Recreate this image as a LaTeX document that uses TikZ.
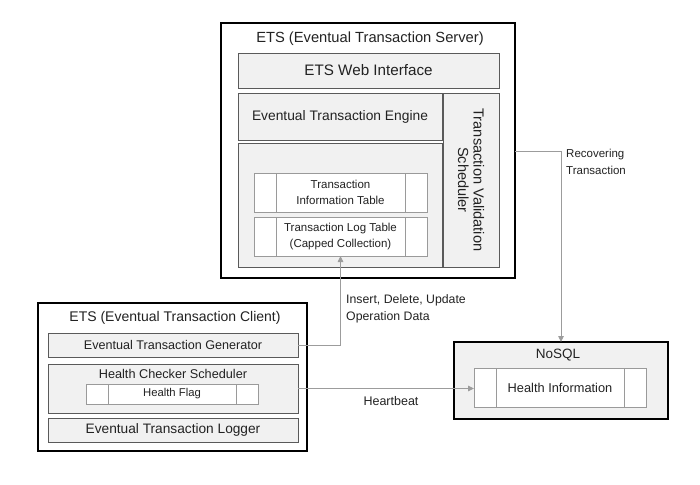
\documentclass[tikz,border=0pt]{standalone}
\usepackage{fontspec}
\setmainfont{Liberation Sans}
\usetikzlibrary{arrows.meta}
\definecolor{boxfill}{HTML}{F1F1F1}
\definecolor{boxline}{HTML}{5A5A5A}
\definecolor{cellline}{HTML}{9A9A9A}
\definecolor{connline}{HTML}{9C9C9C}
\definecolor{txt}{HTML}{222222}
\newcommand{\fsz}[1]{\fontsize{#1}{#1*1.15}\selectfont}
\tikzset{
  outerbox/.style={draw=black, line width=2.4pt, inner sep=0pt, outer sep=0pt, anchor=north west},
  compbox/.style={draw=boxline, fill=boxfill, line width=0.9pt, inner sep=0pt, outer sep=0pt, anchor=north west, text=txt, align=center},
  cellbox/.style={draw=cellline, fill=white, line width=0.8pt, inner sep=0pt, outer sep=0pt, anchor=north west, text=txt, align=center},
  divider/.style={draw=cellline, line width=0.8pt},
  conn/.style={draw=connline, line width=0.9pt, -{Triangle[length=6pt,width=5.5pt]}},
  lbl/.style={text=txt, inner sep=0pt, align=left},
}
\begin{document}
\begin{tikzpicture}[x=1pt,y=-1pt]
\useasboundingbox (0,0) rectangle (700,484);
% Server
\node[outerbox, fill=white, minimum width=294pt, minimum height=255pt] (server) at (221,23) {};
\node[lbl, font={\fontsize{14.7}{17}\selectfont}] (stitle) at (370,39) {ETS (Eventual Transaction Server)};
\node[compbox, font={\fontsize{15.2}{17}\selectfont}, minimum width=261pt, minimum height=35pt] (web) at (238,53) {ETS Web Interface};
\node[compbox, font={\fontsize{13.8}{16}\selectfont}, minimum width=204pt, minimum height=47pt] (engine) at (238,93) {Eventual Transaction Engine};
\node[compbox, minimum width=56pt, minimum height=174pt] (sched) at (443,93) {};
\node[lbl, font={\fontsize{14.6}{15.5}\selectfont}, align=center, rotate=-90] (schedtxt) at (sched.center) {Transaction Validation\\Scheduler};
\node[compbox, minimum width=204pt, minimum height=124pt] (store) at (238,143) {};
\node[cellbox, minimum width=173pt, minimum height=39pt] (infotab) at (254,173) {};
\node[lbl, font={\fontsize{11.5}{16}\selectfont}, align=center] (infotxt) at (infotab.center) {Transaction\\Information Table};
\draw[divider] (infotab.north west) ++(22,0) coordinate (i1) -- (i1 |- infotab.south);
\draw[divider] (infotab.north east) ++(-22,0) coordinate (i2) -- (i2 |- infotab.south);
\node[cellbox, minimum width=173pt, minimum height=39pt] (logtab) at (254,217) {};
\node[lbl, font={\fontsize{11.5}{16}\selectfont}, align=center] (logtxt) at (logtab.center) {Transaction Log Table\\(Capped Collection)};
\draw[divider] (logtab.north west) ++(22,0) coordinate (l1) -- (l1 |- logtab.south);
\draw[divider] (logtab.north east) ++(-22,0) coordinate (l2) -- (l2 |- logtab.south);
% Client
\node[outerbox, fill=white, minimum width=269pt, minimum height=148pt] (client) at (38,303) {};
\node[lbl, font={\fontsize{14}{16}\selectfont}] (ctitle) at (175,318) {ETS (Eventual Transaction Client)};
\node[compbox, font={\fontsize{12.6}{15}\selectfont}, minimum width=250pt, minimum height=24pt] (gen) at (48,333) {Eventual Transaction Generator};
\node[compbox, minimum width=250pt, minimum height=49pt] (hc) at (48,364) {};
\node[lbl, font={\fontsize{12.7}{15}\selectfont}] (hctxt) at (173,374) {Health Checker Scheduler};
\node[cellbox, minimum width=172pt, minimum height=20pt] (flag) at (86,384) {};
\node[lbl, font={\fontsize{11.3}{14}\selectfont}] (flagtxt) at (flag.center) {Health Flag};
\draw[divider] (flag.north west) ++(22,0) coordinate (f1) -- (f1 |- flag.south);
\draw[divider] (flag.north east) ++(-22,0) coordinate (f2) -- (f2 |- flag.south);
\node[compbox, font={\fontsize{13.7}{16}\selectfont}, minimum width=250pt, minimum height=24pt] (logger) at (48,418) {Eventual Transaction Logger};
% NoSQL
\node[outerbox, fill=boxfill, minimum width=214pt, minimum height=77pt] (nosql) at (454,342) {};
\node[lbl, font={\fontsize{13.5}{16}\selectfont}] (ntitle) at (558,355) {NoSQL};
\node[cellbox, minimum width=172pt, minimum height=39pt] (hinfo) at (474,368) {};
\node[lbl, font={\fontsize{12.8}{15}\selectfont}] (hinfotxt) at (hinfo.center) {Health Information};
\draw[divider] (hinfo.north west) ++(22,0) coordinate (h1) -- (h1 |- hinfo.south);
\draw[divider] (hinfo.north east) ++(-22,0) coordinate (h2) -- (h2 |- hinfo.south);
% Connectors
\draw[conn] (gen.east) -| (logtab.south);
\coordinate (recstart) at (server.east |- 0,151);
\draw[conn] (recstart) -| (nosql.north);
\draw[conn] (hc.east) -- (hc.east -| hinfo.west);
% Labels
\node[lbl, font={\fontsize{12.3}{17}\selectfont}, anchor=north west] (oplbl) at (346,294) {Insert, Delete, Update\\Operation Data};
\node[lbl, font={\fontsize{11.5}{17}\selectfont}, anchor=north west] (reclbl) at (566,149) {Recovering\\Transaction};
\node[lbl, font={\fontsize{12.5}{15}\selectfont}] (hblbl) at (391,401) {Heartbeat};
\end{tikzpicture}
\end{document}
